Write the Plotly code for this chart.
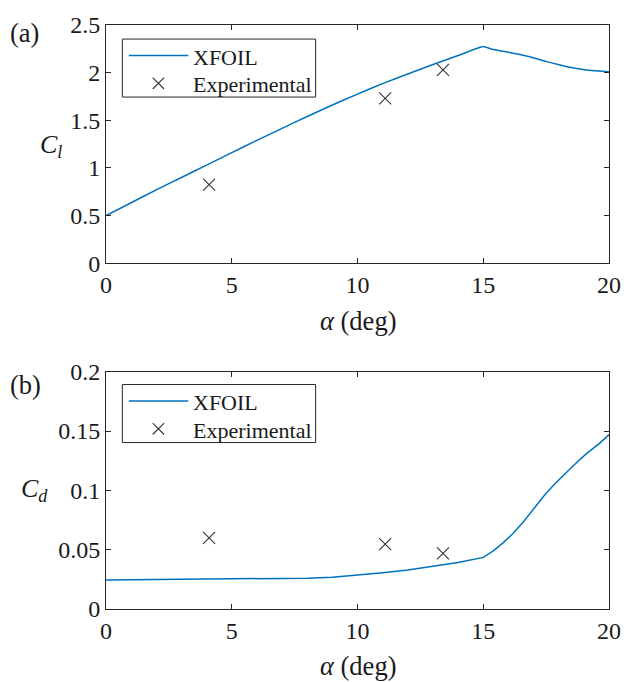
import plotly.graph_objects as go

# XFOIL lift curve
alpha_xf_cl = [0, 1, 2, 3, 4, 5, 6, 7, 8, 9, 10, 11, 12, 13, 14, 15, 15.35, 16, 16.8, 17.5, 18.1, 18.6, 19.1, 19.6, 20]
cl_xf = [0.50, 0.635, 0.77, 0.90, 1.03, 1.16, 1.29, 1.415, 1.54, 1.66, 1.775, 1.885, 1.985, 2.085, 2.18, 2.275,
         2.245, 2.215, 2.17, 2.118, 2.077, 2.048, 2.028, 2.016, 2.01]

# XFOIL drag curve
alpha_xf_cd = [0, 2, 4, 6, 8, 9, 10, 11, 12, 13, 14, 15, 15.4, 15.8, 16.2, 16.6, 17.0, 17.4, 17.8, 18.2, 18.6, 19.1, 19.6, 20]
cd_xf = [0.0245, 0.0248, 0.0250, 0.0253, 0.0260, 0.0268, 0.0284, 0.0305, 0.0328, 0.0357, 0.0392, 0.0435,
         0.0490, 0.0560, 0.0640, 0.0735, 0.0845, 0.0950, 0.1045, 0.1130, 0.1212, 0.1310, 0.1392, 0.1470]

# Experimental data
alpha_exp = [4.1, 11.1, 13.4]
cl_exp = [0.825, 1.73, 2.03]
cd_exp = [0.060, 0.0546, 0.0469]

x_ticks = [0, 5, 10, 15, 20]
cl_ticks = [0, 0.5, 1, 1.5, 2, 2.5]
cl_ticktext = ["0", "0.5", "1", "1.5", "2", "2.5"]
cd_ticks = [0, 0.05, 0.1, 0.15, 0.2]
cd_ticktext = ["0", "0.05", "0.1", "0.15", "0.2"]

BLUE = "#0072BD"
AXC = "#262626"
TXT = "#1a1a1a"
MK = "#333333"
FONT = "Liberation Serif"

W, H = 633, 682
ML, MR, MT, MB = 106, 13.5, 15, 73
PW = W - ML - MR
PH = H - MT - MB


def px(x):
    """pixel column -> paper x"""
    return (x - ML) / PW


def py(y):
    """pixel row -> paper y"""
    return (H - MB - y) / PH


fig = go.Figure()

fig.add_trace(go.Scatter(x=alpha_xf_cl, y=cl_xf, mode="lines", name="XFOIL",
                         line=dict(color=BLUE, width=1.5, shape="spline", smoothing=0.4), xaxis="x", yaxis="y"))
fig.add_trace(go.Scatter(x=alpha_exp, y=cl_exp, mode="markers", name="Experimental",
                         marker=dict(symbol="x-thin", size=12, line=dict(color=MK, width=1.1)),
                         xaxis="x", yaxis="y"))
fig.add_trace(go.Scatter(x=alpha_xf_cd, y=cd_xf, mode="lines", name="XFOIL",
                         line=dict(color=BLUE, width=1.5), xaxis="x2", yaxis="y2"))
fig.add_trace(go.Scatter(x=alpha_exp, y=cd_exp, mode="markers", name="Experimental",
                         marker=dict(symbol="x-thin", size=12, line=dict(color=MK, width=1.1)),
                         xaxis="x2", yaxis="y2"))

ax_common = dict(showline=True, linecolor=AXC, linewidth=1, mirror="ticks", ticks="inside",
                 ticklen=5, tickcolor=AXC, showgrid=False, zeroline=False,
                 tickfont=dict(family=FONT, size=24, color=TXT))

top_a = py(15)
bot_a = py(257.3)
top_b = py(367.7)

fig.update_layout(
    width=W, height=H,
    margin=dict(l=ML, r=MR, t=MT, b=MB),
    paper_bgcolor="white", plot_bgcolor="white",
    showlegend=False,
    xaxis=dict(domain=[0, 1], anchor="y", range=[0, 20], tickvals=x_ticks, **ax_common),
    yaxis=dict(domain=[bot_a, top_a], anchor="x", range=[0, 2.5], tickvals=cl_ticks,
               ticktext=cl_ticktext, **ax_common),
    xaxis2=dict(domain=[0, 1], anchor="y2", range=[0, 20], tickvals=x_ticks, **ax_common),
    yaxis2=dict(domain=[0, top_b], anchor="x2", range=[0, 0.2], tickvals=cd_ticks,
                ticktext=cd_ticktext, **ax_common),
)

# axis titles and panel letters
lab_font = dict(family=FONT, size=26.5, color=TXT)
fig.add_annotation(text="<i>α</i> (deg)", x=px(363), y=py(316), xref="paper", yref="paper",
                   xanchor="center", yanchor="middle", showarrow=False, font=lab_font)
fig.add_annotation(text="<i>α</i> (deg)", x=px(363), y=py(667), xref="paper", yref="paper",
                   xanchor="center", yanchor="middle", showarrow=False, font=lab_font)
fig.add_annotation(text="<i>C</i><sub><i>l</i></sub>", x=px(49.5), y=py(138), xref="paper", yref="paper",
                   xanchor="center", yanchor="middle", showarrow=False, font=dict(family=FONT, size=26, color=TXT))
fig.add_annotation(text="<i>C</i><sub><i>d</i></sub>", x=px(33), y=py(488), xref="paper", yref="paper",
                   xanchor="center", yanchor="middle", showarrow=False, font=dict(family=FONT, size=26, color=TXT))
fig.add_annotation(text="(a)", x=px(6), y=py(23), xref="paper", yref="paper",
                   xanchor="left", yanchor="middle", showarrow=False, font=lab_font)
fig.add_annotation(text="(b)", x=px(6), y=py(381), xref="paper", yref="paper",
                   xanchor="left", yanchor="middle", showarrow=False, font=lab_font)

# legend boxes (one per panel)
leg_font = dict(family=FONT, size=22, color=TXT)
for top in (29.3, 380.7):
    fig.add_shape(type="rect", xref="paper", yref="paper",
                  x0=px(122.7), x1=px(320), y0=py(top), y1=py(top + 59),
                  line=dict(color=AXC, width=1), fillcolor="white", layer="above")
    fig.add_shape(type="line", xref="paper", yref="paper",
                  x0=px(129.3), x1=px(190), y0=py(top + 16.7), y1=py(top + 16.7),
                  line=dict(color=BLUE, width=1.5), layer="above")
    cx, cy, r = 159.5, top + 45, 5.8
    fig.add_shape(type="path", xref="paper", yref="paper", layer="above",
                  path=(f"M{px(cx - r)},{py(cy - r)} L{px(cx + r)},{py(cy + r)} "
                        f"M{px(cx - r)},{py(cy + r)} L{px(cx + r)},{py(cy - r)}"),
                  line=dict(color=MK, width=1.1))
    fig.add_annotation(text="XFOIL", x=px(193), y=py(top + 18.5), xref="paper", yref="paper",
                       xanchor="left", yanchor="middle", showarrow=False, font=leg_font)
    fig.add_annotation(text="Experimental", x=px(193), y=py(top + 46.5), xref="paper", yref="paper",
                       xanchor="left", yanchor="middle", showarrow=False, font=leg_font)

fig.write_html("out.html")
